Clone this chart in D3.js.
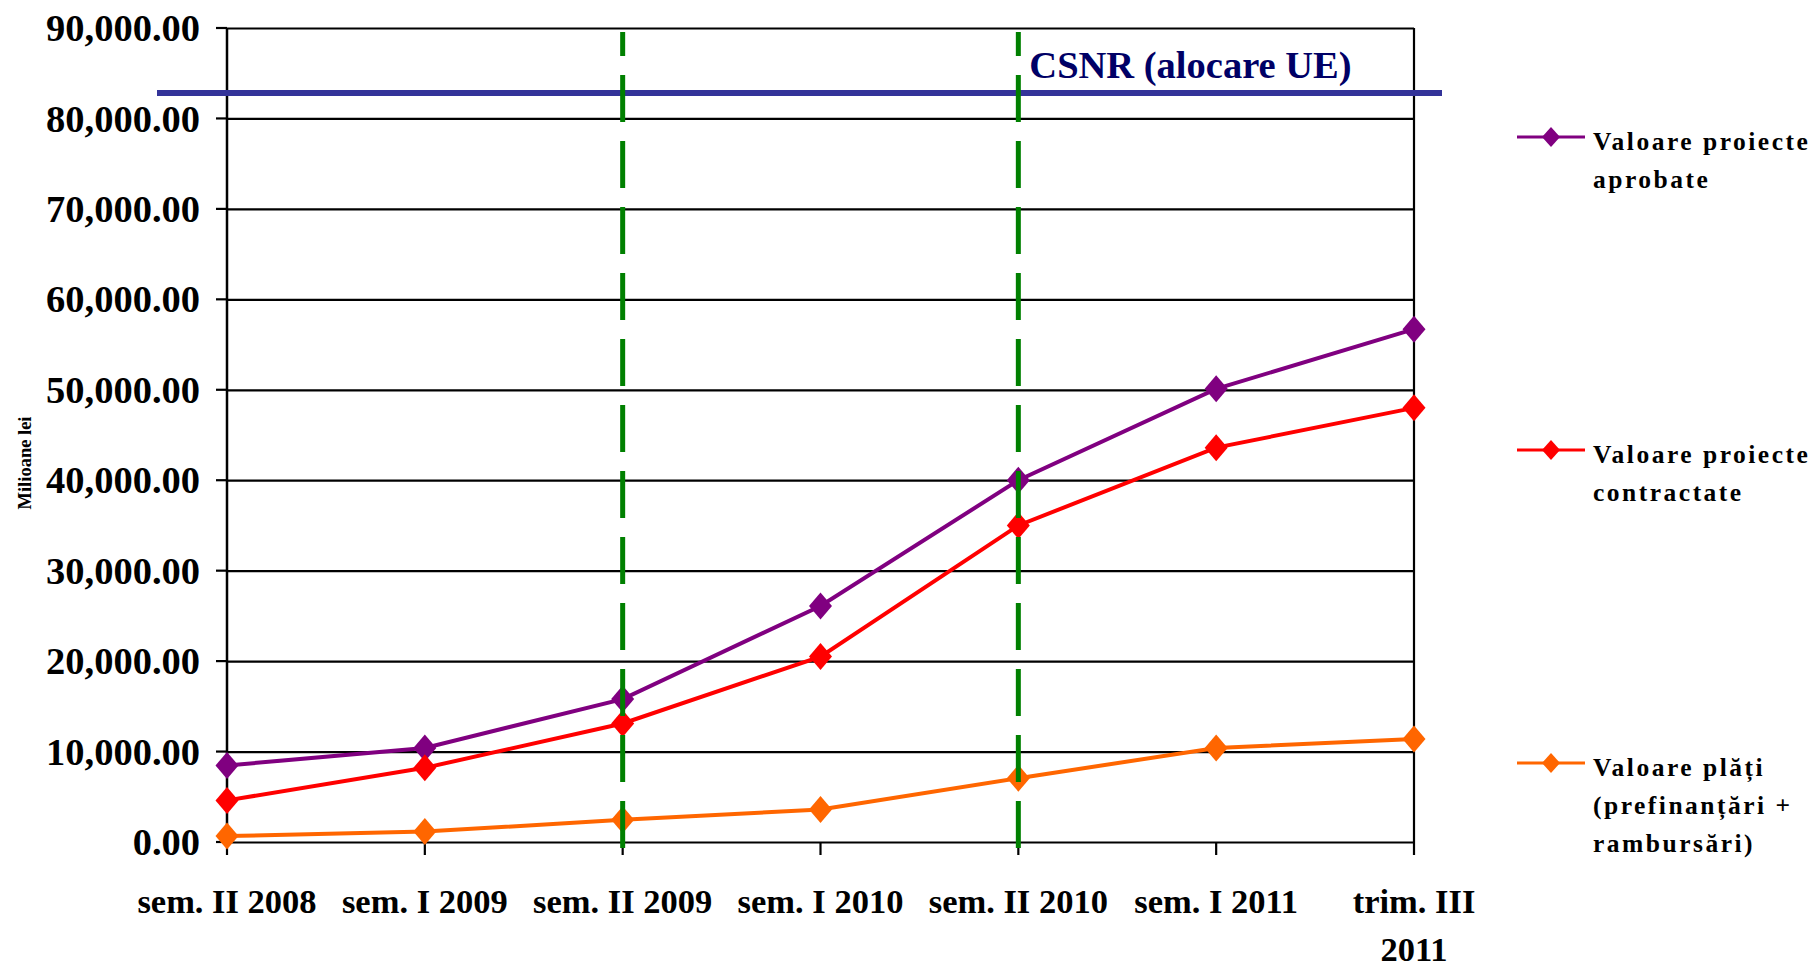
<!DOCTYPE html>
<html>
<head>
<meta charset="utf-8">
<script src="https://cdn.jsdelivr.net/npm/d3@7"></script>
<style>
  body { margin: 0; background: #fff; }
  svg text { font-family: "Liberation Serif", "DejaVu Serif", serif; font-weight: bold; }
</style>
</head>
<body>
<div id="chart"></div>
<script>
// categories on the x axis
let categories = ["sem. II 2008", "sem. I 2009", "sem. II 2009", "sem. I 2010", "sem. II 2010", "sem. I 2011", "trim. III 2011"];

// series values (milioane lei)
let aprobate    = [8460, 10400, 15800, 26100, 40000, 50100, 56700];
let contractate = [4600, 8200, 13100, 20500, 35000, 43600, 48000];
let plati       = [650, 1150, 2450, 3600, 7050, 10400, 11400];

// CSNR allocation level
let csnr = 82800;

// periods marked with the dashed green lines
let markedPeriods = ["sem. II 2009", "sem. II 2010"];

let yTicks = [0, 10000, 20000, 30000, 40000, 50000, 60000, 70000, 80000, 90000];

let seriesNames = [["Valoare proiecte", "aprobate"], ["Valoare proiecte", "contractate"], ["Valoare plăți", "(prefinanțări +", "rambursări)"]];
let seriesColors = ["#800080", "#ff0000", "#ff6600"];

function lineChart() {
  let W = 1819, H = 968;
  let margin = {top: 28, left: 227, right: 405, bottom: 126};
  let width = W - margin.left - margin.right,
      height = H - margin.top - margin.bottom;

  let svg = d3.select("#chart")
    .append("svg")
    .attr("width", W)
    .attr("height", H);

  let g = svg.append("g")
    .attr("transform", "translate(" + margin.left + "," + margin.top + ")");

  let x = d3.scalePoint()
    .domain(categories)
    .range([0, width]);

  let y = d3.scaleLinear()
    .domain([0, 90000])
    .range([height, 0]);

  // horizontal gridlines
  let yAxis = g.append("g")
    .call(d3.axisLeft(y).tickValues(yTicks).tickSize(-width).tickPadding(0));
  yAxis.select(".domain").remove();
  yAxis.selectAll(".tick line").attr("stroke", "#000").attr("stroke-width", 2.2);
  yAxis.selectAll(".tick text").remove();

  // little outside ticks on y axis
  g.append("g").selectAll("line")
    .data(yTicks).enter().append("line")
    .attr("x1", -11).attr("x2", 0)
    .attr("y1", d => y(d)).attr("y2", d => y(d))
    .attr("stroke", "#000").attr("stroke-width", 2.2);

  g.append("g").selectAll("text")
    .data(yTicks).enter().append("text")
    .attr("x", -27)
    .attr("y", d => y(d))
    .attr("dy", "0.34em")
    .attr("text-anchor", "end")
    .style("font-size", "38.5px")
    .text(d => d3.format(",.2f")(d));

  // left axis line and right border
  g.append("line").attr("x1", 0).attr("x2", 0).attr("y1", 0).attr("y2", height)
    .attr("stroke", "#000").attr("stroke-width", 2.5);
  g.append("line").attr("x1", width).attr("x2", width).attr("y1", 0).attr("y2", height)
    .attr("stroke", "#000").attr("stroke-width", 2.2);

  // x ticks
  g.append("g").selectAll("line")
    .data(categories).enter().append("line")
    .attr("x1", d => x(d)).attr("x2", d => x(d))
    .attr("y1", height).attr("y2", height + 13)
    .attr("stroke", "#000").attr("stroke-width", 2.2);

  // x labels (last one wraps on two lines)
  let xl = g.append("g").selectAll("text")
    .data(categories).enter().append("text")
    .attr("x", d => x(d))
    .attr("y", height + 71)
    .attr("text-anchor", "middle")
    .style("font-size", "34.5px");
  xl.each(function(d) {
    let t = d3.select(this);
    if (d.startsWith("trim.")) {
      t.append("tspan").attr("x", x(d)).text("trim. III");
      t.append("tspan").attr("x", x(d)).attr("dy", 48).text("2011");
    } else {
      t.text(d);
    }
  });

  // Y axis label
  svg.append("text")
    .attr("transform", "translate(31," + (margin.top + y(45000) + 28) + ") rotate(-90)")
    .attr("text-anchor", "middle")
    .style("font-size", "18.5px")
    .text("Milioane lei");

  // CSNR line
  g.append("line")
    .attr("x1", -70).attr("x2", width + 28)
    .attr("y1", y(csnr)).attr("y2", y(csnr))
    .attr("stroke", "#333399").attr("stroke-width", 6);
  g.append("text")
    .attr("x", x(markedPeriods[1]) + 11)
    .attr("y", y(csnr) - 15)
    .style("font-size", "38.5px")
    .style("fill", "#000066")
    .text("CSNR (alocare UE)");

  let diamond = (w, h) => "M0," + (-h) + "L" + w + ",0L0," + h + "L" + (-w) + ",0Z";

  let allSeries = [aprobate, contractate, plati];
  let line = d3.line()
    .x((d, i) => x(categories[i]))
    .y(d => y(d));

  allSeries.forEach(function(s, k) {
    g.append("path")
      .datum(s)
      .attr("fill", "none")
      .attr("stroke", seriesColors[k])
      .attr("stroke-width", 4)
      .attr("d", line);
    g.append("g").selectAll("path")
      .data(s).enter().append("path")
      .attr("transform", (d, i) => "translate(" + x(categories[i]) + "," + y(d) + ")")
      .attr("d", diamond(11.5, 13.5))
      .attr("fill", seriesColors[k]);
  });

  // dashed green period separators
  g.append("g").selectAll("line")
    .data(markedPeriods).enter().append("line")
    .attr("x1", d => x(d)).attr("x2", d => x(d))
    .attr("y1", height + 6).attr("y2", 4)
    .attr("stroke", "#008000")
    .attr("stroke-width", 5)
    .attr("stroke-dasharray", "47,19");

  // legend
  let legend = svg.append("g");
  let legendY = [137, 450, 763];
  seriesNames.forEach(function(lines, k) {
    let lg = legend.append("g").attr("transform", "translate(1517," + legendY[k] + ")");
    lg.append("line").attr("x1", 0).attr("x2", 68).attr("y1", 0).attr("y2", 0)
      .attr("stroke", seriesColors[k]).attr("stroke-width", 3.2);
    lg.append("path").attr("transform", "translate(34,0)")
      .attr("d", diamond(9, 10)).attr("fill", seriesColors[k]);
    lg.selectAll("text").data(lines).enter().append("text")
      .attr("x", 76)
      .attr("y", (d, i) => 13 + i * 38)
      .style("font-size", "25.5px")
      .style("letter-spacing", "2.5px")
      .text(d => d);
  });
}

lineChart();
</script>
</body>
</html>
